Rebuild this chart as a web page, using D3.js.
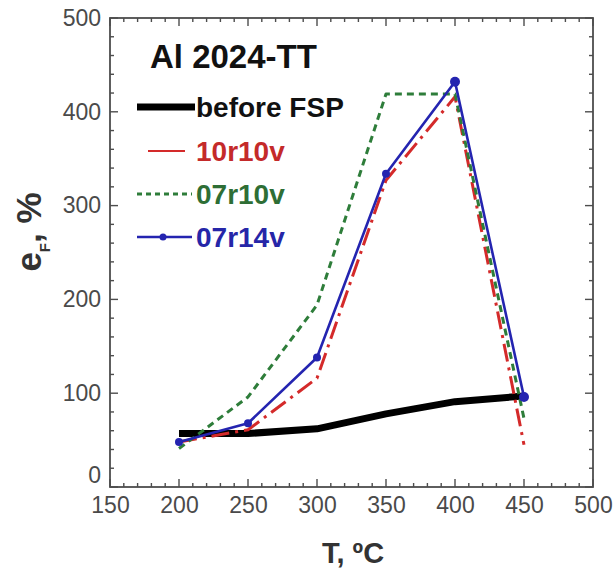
<!DOCTYPE html>
<html><head><meta charset="utf-8">
<script src="https://cdn.jsdelivr.net/npm/d3@7"></script>
<style>body{margin:0;background:#fff}svg{display:block}text{font-family:"Liberation Sans",Arial,sans-serif}</style>
</head><body><div id="c"></div>
<script>
const temps = [200, 250, 300, 350, 400, 450];
const beforeFSP = [57, 57, 62, 78, 91, 97];
const s10r10v = [48, 61, 116, 327, 416, 45];
const s07r10v = [41, 96, 194, 419, 419, 73];
const s07r14v = [48, 68, 138, 334, 432, 96];
const xTicks = [150, 200, 250, 300, 350, 400, 450, 500];
const yTicks = [0, 100, 200, 300, 400, 500];
const xMinor = d3.range(150, 501, 10);
const yMinor = d3.range(0, 501, 20);
const seriesNames = ["before FSP", "10r10v", "07r10v", "07r14v"];

const W = 614, H = 584;
const m = {l: 110, r: 21, t: 18, b: 97};
const svg = d3.select("#c").append("svg").attr("width", W).attr("height", H);
const x = d3.scaleLinear().domain([150, 500]).range([m.l, W - m.r]);
const y = d3.scaleLinear().domain([0, 500]).range([H - m.b, m.t]);

const axCol = "#4d4d4d";
const X0 = x(150), X1 = x(500), Y0 = y(0), Y1 = y(500);

// frame
svg.append("rect").attr("x", X0).attr("y", Y1).attr("width", X1 - X0).attr("height", Y0 - Y1)
  .attr("fill", "none").attr("stroke", axCol).attr("stroke-width", 1.8);

// inward ticks on all sides
const tickData = [];
xMinor.forEach(v => {
  const len = xTicks.includes(v) ? 8 : 4;
  tickData.push([x(v), Y0, x(v), Y0 - len], [x(v), Y1, x(v), Y1 + len]);
});
yMinor.forEach(v => {
  const len = yTicks.includes(v) ? 8 : 4;
  tickData.push([X0, y(v), X0 + len, y(v)], [X1, y(v), X1 - len, y(v)]);
});
svg.append("g").attr("stroke", axCol).attr("stroke-width", 1.4)
  .selectAll("line").data(tickData).join("line")
  .attr("x1", d => d[0]).attr("y1", d => d[1]).attr("x2", d => d[2]).attr("y2", d => d[3]);

const labCol = "#4a4a4a";
// x tick labels
const gx = svg.append("g").attr("transform", `translate(0,${Y0})`)
  .call(d3.axisBottom(x).tickValues(xTicks).tickSize(0).tickPadding(10));
gx.select(".domain").remove();
gx.selectAll("text").attr("font-size", 23).attr("fill", labCol).attr("font-family", "Liberation Sans, Arial, sans-serif");
// y tick labels
const gy = svg.append("g").attr("transform", `translate(${X0},0)`)
  .call(d3.axisLeft(y).tickValues(yTicks).tickSize(0).tickPadding(9));
gy.select(".domain").remove();
gy.selectAll("text").attr("font-size", 23).attr("fill", labCol).attr("font-family", "Liberation Sans, Arial, sans-serif")
  .attr("dy", d => d === 0 ? "-0.2em" : "0.32em");

// axis titles
svg.append("text").attr("x", 353).attr("y", 563).attr("text-anchor", "middle").attr("font-size", 29).attr("font-weight", "bold").attr("fill", "#333")
  .text("T, ºC");
const yl = svg.append("text").attr("transform", "translate(41,232) rotate(-90)").attr("text-anchor", "middle")
  .attr("font-size", 35).attr("font-weight", "bold").attr("fill", "#333");
yl.append("tspan").text("e");
yl.append("tspan").attr("font-size", 15).attr("dy", 9).text("F");
yl.append("tspan").attr("dy", -9).text(", %");

// lines
const line = d3.line().x(d => x(d[0])).y(d => y(d[1]));
const zip = arr => temps.map((t, i) => [t, arr[i]]);
const styles = [
  {data: beforeFSP, color: "#000", w: 7, dash: null},
  {data: s10r10v, color: "#d42a2a", w: 3, dash: "18,6,3,6"},
  {data: s07r10v, color: "#2e7d3a", w: 3, dash: "7,5"},
  {data: s07r14v, color: "#2424b0", w: 2.6, dash: null}
];
styles.forEach(s => {
  svg.append("path").attr("d", line(zip(s.data))).attr("fill", "none").attr("stroke", s.color)
    .attr("stroke-width", s.w).attr("stroke-dasharray", s.dash).attr("stroke-linejoin", "round");
});
svg.selectAll(".pt").data(zip(s07r14v)).join("circle").attr("cx", d => x(d[0])).attr("cy", d => y(d[1]))
  .attr("r", (d, i) => i >= 4 ? 5 : 4).attr("fill", "#2424b0");

// title + legend
svg.append("text").attr("x", 150).attr("y", 68).attr("font-size", 33).attr("font-weight", "bold").attr("fill", "#111").text("Al 2024-TT");
const leg = [
  {name: seriesNames[0], y: 107, x1: 137, x2: 195, st: styles[0], tc: "#111"},
  {name: seriesNames[1], y: 151, x1: 148, x2: 185, st: styles[1], tc: "#c42a2a", dash: "none", w: 2},
  {name: seriesNames[2], y: 194, x1: 137, x2: 192, st: styles[2], tc: "#2e6e35", dash: "5,4"},
  {name: seriesNames[3], y: 237, x1: 137, x2: 192, st: styles[3], tc: "#2626a8"}
];
leg.forEach((l, i) => {
  svg.append("line").attr("x1", l.x1).attr("x2", l.x2).attr("y1", l.y).attr("y2", l.y)
    .attr("stroke", l.st.color).attr("stroke-width", l.w || l.st.w).attr("stroke-dasharray", l.dash || l.st.dash);
  if (i === 3) svg.append("circle").attr("cx", 163).attr("cy", l.y).attr("r", 3.5).attr("fill", l.st.color);
  svg.append("text").attr("x", 196).attr("y", l.y + 10).attr("font-size", 28).attr("font-weight", "bold").attr("fill", l.tc).text(l.name);
});
</script></body></html>
